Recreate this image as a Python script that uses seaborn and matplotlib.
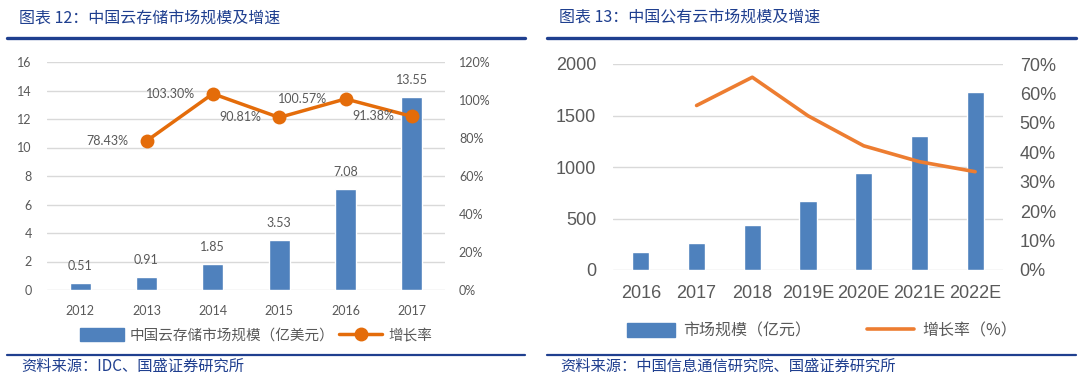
import numpy as np
import pandas as pd
import matplotlib.pyplot as plt
import seaborn as sns
from matplotlib.lines import Line2D
from matplotlib.patches import Patch
from matplotlib.ticker import PercentFormatter

# left chart: China cloud storage market
storage_years = ['2012', '2013', '2014', '2015', '2016', '2017']
storage_size = [0.51, 0.91, 1.85, 3.53, 7.08, 13.55]
storage_growth = [np.nan, 0.7843, 1.0330, 0.9081, 1.0057, 0.9138]

# right chart: China public cloud market
cloud_years = ['2016', '2017', '2018', '2019E', '2020E', '2021E', '2022E']
cloud_size = [170, 260, 437, 670, 945, 1300, 1731]
cloud_growth = [np.nan, 0.559, 0.655, 0.524, 0.422, 0.368, 0.334]

sns.set_style('white')
plt.rcParams['font.family'] = ['Liberation Sans', 'Noto Sans CJK SC', 'DejaVu Sans']

W, H = 1080, 379
fig = plt.figure(figsize=(W / 100, H / 100), dpi=100)

def px(x0, y0, x1, y1):
    return [x0 / W, 1 - y1 / H, (x1 - x0) / W, (y1 - y0) / H]

navy = '#1f3f8f'
gray = '#595959'
grid = '#d9d9d9'
cjk = ['Noto Sans CJK SC', 'DejaVu Sans']

# header / footer rules and captions
for x0, x1 in [(7, 525), (547, 1076)]:
    fig.add_artist(Line2D([x0 / W, x1 / W], [1 - 38 / H] * 2, color=navy, lw=2.4))
    fig.add_artist(Line2D([x0 / W, x1 / W], [1 - 355 / H] * 2, color=navy, lw=1.6))
fig.text(19 / W, 1 - 18 / H, '图表 12：中国云存储市场规模及增速', color=navy,
         fontsize=11.5, family=cjk, va='center', style='italic')
fig.text(559 / W, 1 - 18 / H, '图表 13：中国公有云市场规模及增速', color=navy,
         fontsize=11.5, family=cjk, va='center', style='italic')
fig.text(21 / W, 1 - 366 / H, '资料来源：IDC、国盛证券研究所', color=navy,
         fontsize=11, family=cjk, va='center', style='italic')
fig.text(560 / W, 1 - 366 / H, '资料来源：中国信息通信研究院、国盛证券研究所', color=navy,
         fontsize=11, family=cjk, va='center', style='italic')

# ---------- left chart ----------
df1 = pd.DataFrame({'year': storage_years, 'size': storage_size,
                    'growth': storage_growth, 'pos': range(len(storage_years))})
ax = fig.add_axes(px(47, 62, 445, 290))
sns.barplot(data=df1, x='year', y='size', order=storage_years, color='#4f81bd',
            saturation=1, width=0.32, ax=ax)
ax.set_ylim(0, 16)
ax.set_yticks(range(0, 17, 2))
ax.set_xlim(-0.5, len(storage_years) - 0.5)
ax.yaxis.grid(True, color=grid, lw=1)
ax.set_axisbelow(True)
ax.set_xlabel('')
ax.set_ylabel('')
for lab in ax.bar_label(ax.containers[0], fmt='%.2f', padding=8):
    lab.set_color(gray)
    lab.set_fontsize(9)
    lab.set_family('Lato')
ax.tick_params(length=0, labelsize=9, labelcolor=gray, pad=11)
ax.tick_params(axis='y', pad=11)
for t in ax.get_xticklabels() + ax.get_yticklabels():
    t.set_family('Lato')

ax2 = ax.twinx()
sns.lineplot(data=df1, x='pos', y='growth', color='#e46c0a', lw=2.5, marker='o',
             markersize=10, markeredgewidth=0, ax=ax2)
ax2.set_ylim(0, 1.2)
ax2.set_yticks(np.arange(0, 1.21, 0.2))
ax2.yaxis.set_major_formatter(PercentFormatter(1.0, decimals=0))
ax2.set_ylabel('')
ax2.tick_params(length=0, labelsize=9, labelcolor=gray, pad=10)
for t in ax2.get_yticklabels():
    t.set_family('Lato')
for p, g in zip(df1['pos'], df1['growth']):
    if not np.isnan(g):
        ax2.annotate(f'{g * 100:.2f}%', (p, g), xytext=(-13, 0), textcoords='offset points',
                     ha='right', va='center', fontsize=9, color=gray, family='Lato')
for a in (ax, ax2):
    sns.despine(ax=a, left=True, right=True, top=True, bottom=True)

fig.legend(handles=[Patch(color='#4f81bd', label='中国云存储市场规模（亿美元）'),
                    Line2D([], [], color='#e46c0a', lw=2.5, marker='o', markersize=9,
                           label='增长率')],
           loc='center', bbox_to_anchor=(256 / W, 1 - 335 / H), ncol=2, frameon=False,
           prop={'family': cjk, 'size': 10.5}, handlelength=3.0, handleheight=1.0,
           columnspacing=0.3, handletextpad=0.4, labelcolor=gray)

# ---------- right chart ----------
df2 = pd.DataFrame({'year': cloud_years, 'size': cloud_size,
                    'growth': cloud_growth, 'pos': range(len(cloud_years))})
bx = fig.add_axes(px(613, 64, 1003, 270))
sns.barplot(data=df2, x='year', y='size', order=cloud_years, color='#4e81bd',
            saturation=1, width=0.31, ax=bx)
bx.set_ylim(0, 2000)
bx.set_yticks(range(0, 2001, 500))
bx.set_xlim(-0.5, len(cloud_years) - 0.5)
bx.yaxis.grid(True, color=grid, lw=1)
bx.set_axisbelow(True)
bx.set_xlabel('')
bx.set_ylabel('')
bx.tick_params(length=0, labelsize=13, labelcolor=gray, pad=11)
bx.tick_params(axis='y', pad=12)

bx2 = bx.twinx()
sns.lineplot(data=df2, x='pos', y='growth', color='#ed7d31', lw=2.6, ax=bx2)
bx2.set_ylim(0, 0.7)
bx2.set_yticks(np.arange(0, 0.71, 0.1))
bx2.yaxis.set_major_formatter(PercentFormatter(1.0, decimals=0))
bx2.set_ylabel('')
bx2.tick_params(length=0, labelsize=13, labelcolor=gray, pad=12)
for a in (bx, bx2):
    sns.despine(ax=a, left=True, right=True, top=True, bottom=True)

fig.legend(handles=[Patch(color='#4e81bd', label='市场规模（亿元）'),
                    Line2D([], [], color='#ed7d31', lw=2.6, label='增长率（%）')],
           loc='center', bbox_to_anchor=(822 / W, 1 - 331 / H), ncol=2, frameon=False,
           prop={'family': cjk, 'size': 11.5}, handlelength=3.0, handleheight=0.9,
           columnspacing=3.5, handletextpad=0.5, labelcolor=gray)

fig.savefig('out.png', dpi=100)
